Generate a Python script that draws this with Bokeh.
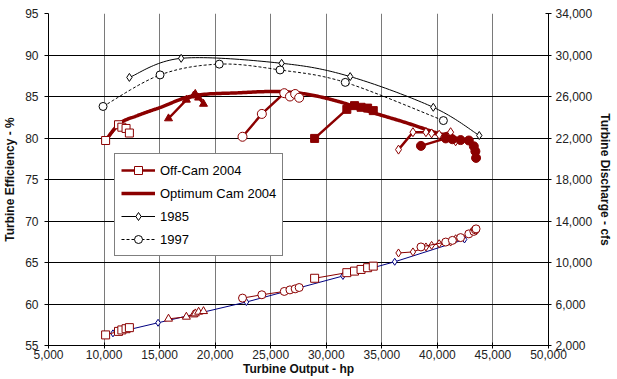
import numpy as np
from bokeh.plotting import figure
from bokeh.models import (Range1d, LinearAxis, FixedTicker, NumeralTickFormatter,
                          Legend, LegendItem)
from bokeh.embed import file_html
from bokeh.resources import INLINE

# ---------------- data ----------------
x_ticks = list(range(5000, 50001, 5000))
eff_ticks = list(range(55, 96, 5))
q_ticks = list(range(2000, 34001, 4000))

hp_1985 = [12280, 16940, 25980, 32150, 39630, 43770]
eff_1985 = [87.3, 89.6, 89.0, 87.4, 83.7, 80.3]
hp_1985q = [10800, 14860, 22810, 31500, 36160, 42440]
q_1985 = [3170, 4190, 6190, 8700, 10070, 12220]

hp_1997 = [9910, 15040, 20370, 25840, 31710, 40540]
eff_1997 = [83.8, 87.6, 88.9, 88.2, 86.7, 82.1]

hp_opt = [10140, 11400, 13000, 15100, 18060, 22200, 25500, 28150, 31100, 34080, 37050, 40000, 42500]
eff_opt = [79.7, 81.75, 82.7, 83.7, 85.1, 85.45, 85.6, 85.3, 84.4, 83.1, 81.9, 80.6, 79.7]

# Off-Cam 2004 test groups (same operating points for efficiency and discharge)
hp_a = [10140, 11300, 11600, 11980, 12280]
eff_a = [79.7, 81.6, 81.3, 81.15, 80.6]
q_a = [3020, 3360, 3500, 3620, 3720]

hp_b = [15800, 17410, 18060, 18210, 18510, 18950]
eff_b = [82.35, 84.6, 85.1, 85.3, 84.85, 84.1]
q_b = [4570, 4760, 4980, 5080, 5240, 5300]

hp_c = [22460, 24200, 26220, 26730, 27200, 27560]
eff_c = [80.15, 82.9, 85.4, 85.0, 85.3, 84.85]
q_c = [6570, 6890, 7210, 7360, 7460, 7590]

hp_d = [28950, 31850, 32540, 33130, 33720, 34230]
eff_d = [79.95, 83.45, 83.9, 83.7, 83.6, 83.3]
q_d = [8480, 9020, 9170, 9330, 9500, 9650]

hp_e = [36500, 37800, 38970, 39480, 40160, 41190, 41640]
eff_e = [78.6, 80.7, 80.7, 80.55, 80.4, 80.7, 79.6]
q_e = [10920, 11020, 11500, 11650, 11810, 11970, 12290]

hp_f = [38520, 40750, 41350, 42090, 42830, 43280, 43420, 43480]
eff_f = [79.05, 79.95, 79.85, 79.75, 79.7, 79.0, 78.4, 77.6]
q_f = [11500, 11970, 12130, 12400, 12760, 13000, 13150, 13240]

RED = "#8B0000"
NAVY = "#000080"
FONT = "Liberation Sans"


def smooth(xs, ys, n=24):
    """Catmull-Rom rendering of a smoothed line through the data points."""
    sx, sy = 1 / 89.0, 8.4
    P = np.column_stack([np.asarray(xs, float) * sx, np.asarray(ys, float) * sy])
    pts = np.vstack([P[0], P, P[-1]])
    out = []
    t = np.linspace(0, 1, n, endpoint=False)[:, None]
    for i in range(1, len(pts) - 2):
        p0, p1, p2, p3 = pts[i - 1], pts[i], pts[i + 1], pts[i + 2]
        seg = 0.5 * (2 * p1 + (-p0 + p2) * t + (2 * p0 - 5 * p1 + 4 * p2 - p3) * t ** 2
                     + (-p0 + 3 * p1 - 3 * p2 + p3) * t ** 3)
        out.append(seg)
    out.append(P[-1:])
    r = np.vstack(out)
    return list(r[:, 0] / sx), list(r[:, 1] / sy)


p = figure(width=615, height=378, x_range=Range1d(5000, 50000), y_range=Range1d(55, 95),
           output_backend="svg", toolbar_location=None,
           min_border_left=46, min_border_right=63, min_border_top=13, min_border_bottom=31)
p.outline_line_color = None
p.background_fill_color = "white"
p.extra_y_ranges = {"q": Range1d(2000, 34000)}

# grids
p.xgrid.ticker = FixedTicker(ticks=x_ticks)
p.ygrid.ticker = FixedTicker(ticks=eff_ticks)
p.xgrid.grid_line_color = "#7a7a7a"
p.ygrid.grid_line_color = "#000000"
p.xgrid.grid_line_width = 1
p.ygrid.grid_line_width = 1


def style_axis(ax):
    ax.major_label_text_font = FONT
    ax.major_label_text_font_size = "12px"
    ax.major_label_text_color = "#222222"
    ax.axis_line_color = "#000000"
    ax.major_tick_line_color = "#000000"
    ax.minor_tick_line_color = None
    ax.axis_label_text_font = FONT
    ax.axis_label_text_font_size = "12px"
    ax.axis_label_text_font_style = "bold"
    ax.axis_label_text_color = "#111111"


style_axis(p.xaxis[0])
style_axis(p.yaxis[0])

p.xaxis.ticker = FixedTicker(ticks=x_ticks)
p.xaxis.formatter = NumeralTickFormatter(format="0,0")
p.xaxis.major_tick_in = 3
p.xaxis.major_tick_out = 3
p.xaxis.major_label_standoff = 1
p.xaxis.axis_label = "Turbine Output - hp"
p.xaxis.axis_label_standoff = 0

p.yaxis.ticker = FixedTicker(ticks=eff_ticks)
p.yaxis.major_tick_in = 0
p.yaxis.major_tick_out = 4
p.yaxis.major_label_standoff = 6
p.yaxis.axis_label = "Turbine Efficiency - %"
p.yaxis.axis_label_standoff = 5

ax_r = LinearAxis(y_range_name="q", ticker=FixedTicker(ticks=q_ticks),
                  formatter=NumeralTickFormatter(format="0,0"),
                  axis_label="Turbine Discharge - cfs")
style_axis(ax_r)
ax_r.major_tick_in = 3
ax_r.major_tick_out = 3
ax_r.major_label_standoff = 4
ax_r.axis_label_standoff = 3
p.add_layout(ax_r, "right")

# ---------------- efficiency curves ----------------
sx85, sy85 = smooth(hp_1985, eff_1985)
l85 = p.line(sx85, sy85, line_color="#000000", line_width=1)
m85 = p.scatter(hp_1985, eff_1985, marker="diamond", size=8, line_color="#000000",
                fill_color="white", line_width=1)

sx97, sy97 = smooth(hp_1997, eff_1997)
l97 = p.line(sx97, sy97, line_color="#000000", line_width=1, line_dash="3 2")
m97 = p.scatter(hp_1997, eff_1997, marker="circle", size=8, line_color="#000000",
                fill_color="white", line_width=1)

sxo, syo = smooth(hp_opt, eff_opt)
lopt = p.line(sxo, syo, line_color=RED, line_width=3.5)

groups = [
    (hp_a, eff_a, q_a, "square", False),
    (hp_b, eff_b, q_b, "triangle", True),
    (hp_c, eff_c, q_c, "circle", False),
    (hp_d, eff_d, q_d, "square", True),
    (hp_e, eff_e, q_e, "diamond", False),
    (hp_f, eff_f, q_f, "circle", True),
]
legend_off = None
for hp, ef, q, mk, filled in groups:
    ln = p.line(hp, ef, line_color=RED, line_width=2.5)
    sz = 9 if mk in ("circle", "diamond") else 8
    sc = p.scatter(hp, ef, marker=mk, size=sz, line_color=RED,
                   fill_color=RED if filled else "white", line_width=1)
    if legend_off is None:
        legend_off = [ln, sc]

# ---------------- discharge curves ----------------
p.line(hp_1985q, q_1985, y_range_name="q", line_color=NAVY, line_width=1)
p.scatter(hp_1985q, q_1985, y_range_name="q", marker="diamond", size=7,
          line_color=NAVY, fill_color="white", line_width=1)
for hp, ef, q, mk, filled in groups:
    p.line(hp, q, y_range_name="q", line_color=RED, line_width=1)
    p.scatter(hp, q, y_range_name="q", marker=mk, size=8, line_color=RED,
              fill_color="white", line_width=1)

# ---------------- legend ----------------
legend = Legend(items=[
    LegendItem(label="Off-Cam 2004", renderers=legend_off),
    LegendItem(label="Optimum Cam 2004", renderers=[lopt]),
    LegendItem(label="1985", renderers=[l85, m85]),
    LegendItem(label="1997", renderers=[l97, m97]),
], location=(66, 89))
legend.label_text_font = FONT
legend.label_text_font_size = "13px"
legend.label_text_color = "#000000"
legend.border_line_color = "#000000"
legend.border_line_width = 1
legend.background_fill_color = "white"
legend.background_fill_alpha = 1
legend.padding = 6
legend.spacing = 3
legend.glyph_width = 34
legend.glyph_height = 20
legend.label_height = 20
legend.label_standoff = 5
legend.margin = 0
p.add_layout(legend, "center")

open("out.html", "w").write(file_html(p, INLINE))
